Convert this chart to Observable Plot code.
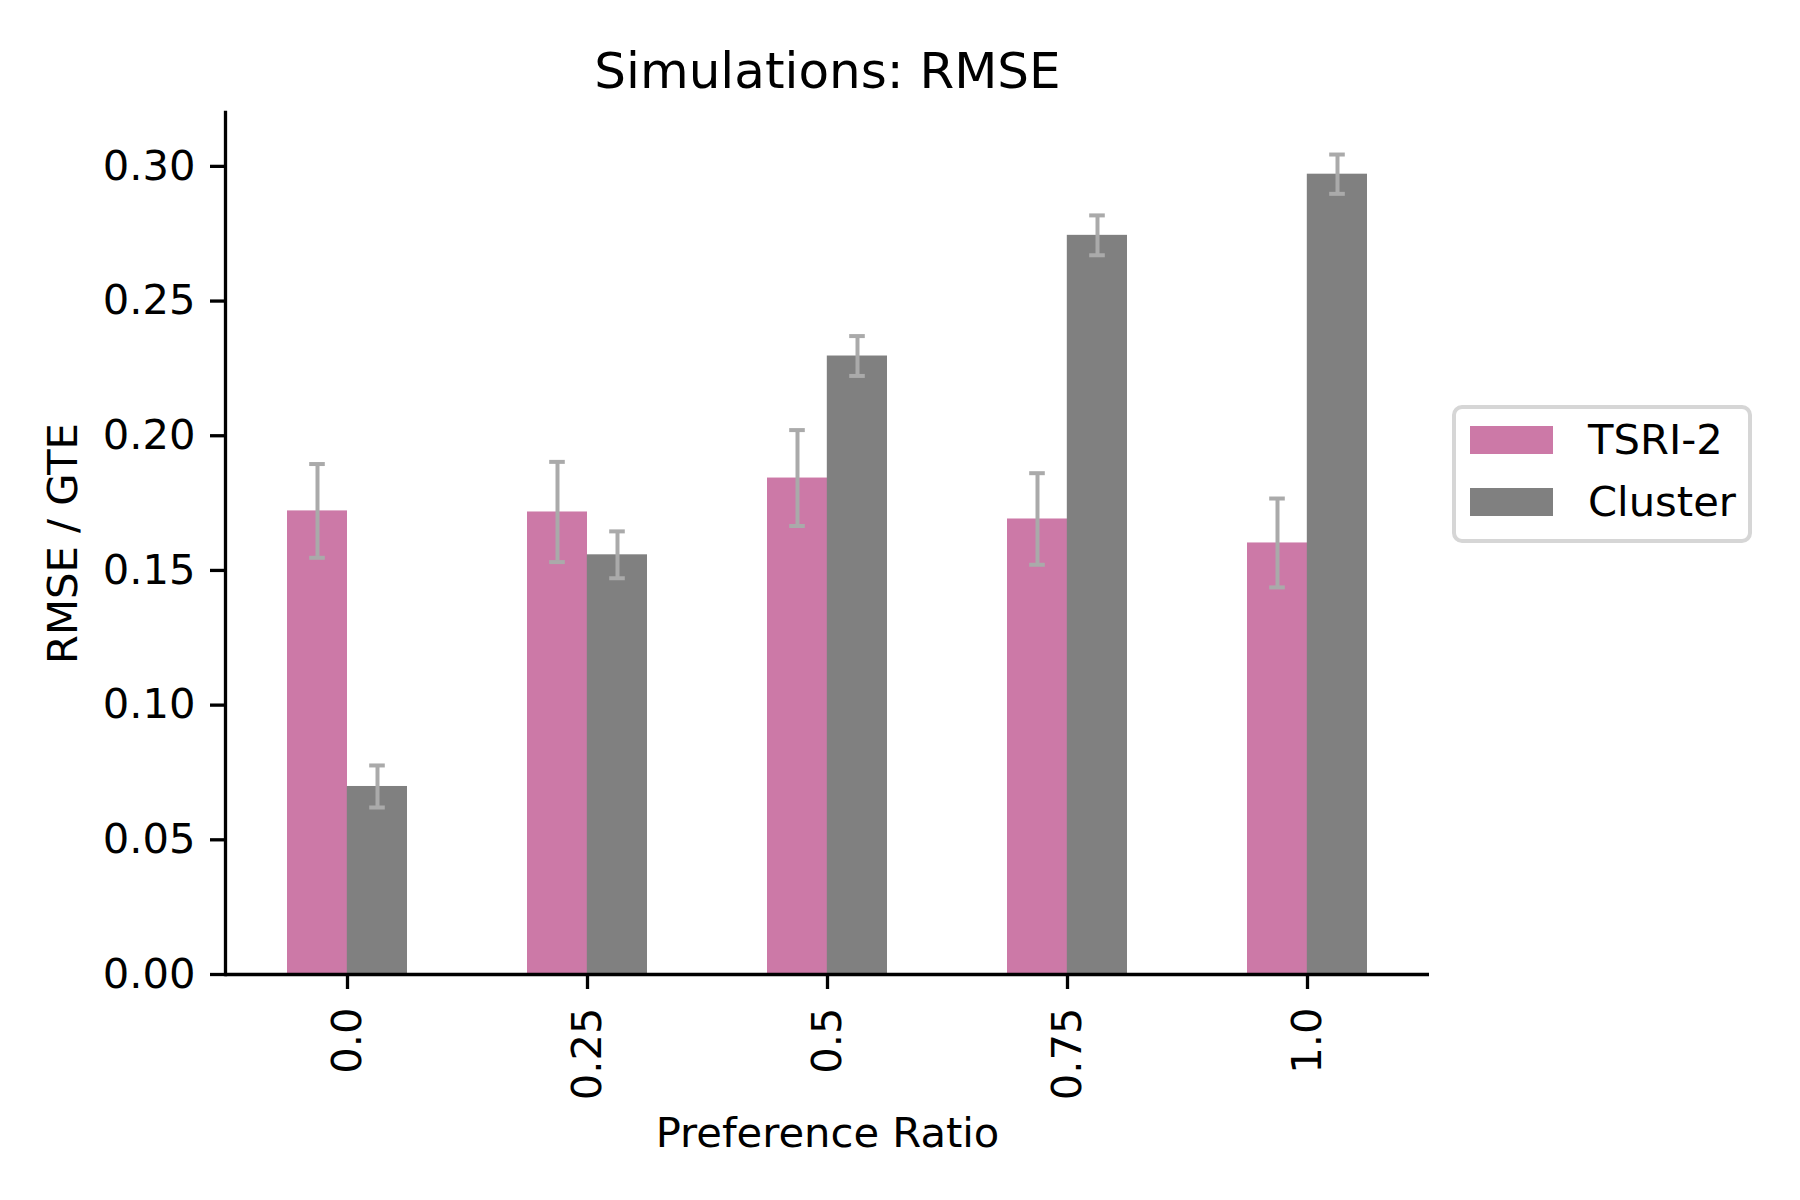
<!DOCTYPE html>
<html>
<head>
<meta charset="utf-8">
<script src="https://cdn.jsdelivr.net/npm/d3@7"></script>
<script src="https://cdn.jsdelivr.net/npm/@observablehq/plot@0.6"></script>
<style>
  body { margin: 0; background: #fff; }
  #wrap { position: relative; width: 1800px; height: 1200px; font-family: "DejaVu Sans", sans-serif; }
  #chart svg { display: block; }
  .legend { position: absolute; left: 1452px; top: 405px; width: 292px; height: 130px;
            border: 4px solid #d6d6d6; border-radius: 10px; background: #fff; }
  .legend .sw { position: absolute; left: 14px; width: 83px; height: 28px; }
  .legend .lb { position: absolute; left: 132px; font-size: 41.7px; line-height: 42px; color: #000; white-space: nowrap; }
</style>
</head>
<body>
<div id="wrap">
  <div id="chart"></div>
  <div class="legend" id="legend"></div>
</div>
<script>
// ---- data ----
const categories = ["0.0", "0.25", "0.5", "0.75", "1.0"];
const seriesNames = ["TSRI-2", "Cluster"];
const tsriValues = [0.1721, 0.1717, 0.1843, 0.1691, 0.1602];
const tsriErrors = [0.0174, 0.0186, 0.0178, 0.0170, 0.0165];
const clusterValues = [0.0698, 0.1558, 0.2296, 0.2744, 0.2971];
const clusterErrors = [0.0078, 0.0087, 0.0074, 0.0074, 0.0073];
const yTicks = [0, 0.05, 0.10, 0.15, 0.20, 0.25, 0.30];
const titleText = "Simulations: RMSE";
const xLabel = "Preference Ratio";
const yLabel = "RMSE / GTE";

const PINK = "#CC79A7";
const GRAY = "#808080";
const ERR = "#AAAAAA";

const tsri = categories.map((c, i) => ({cat: c, value: tsriValues[i], err: tsriErrors[i]}));
const cluster = categories.map((c, i) => ({cat: c, value: clusterValues[i], err: clusterErrors[i]}));

const errMarks = (data, shift) => [
  Plot.ruleX(data, {x: "cat", y1: d => d.value - d.err, y2: d => d.value + d.err, dx: shift, stroke: ERR, strokeWidth: 4}),
  Plot.tickY(data, {x: "cat", y: d => d.value + d.err, dx: shift, insetLeft: 52.2, insetRight: 52.2, stroke: ERR, strokeWidth: 4}),
  Plot.tickY(data, {x: "cat", y: d => d.value - d.err, dx: shift, insetLeft: 52.2, insetRight: 52.2, stroke: ERR, strokeWidth: 4})
];

const plot = Plot.plot({
  width: 1800,
  height: 1200,
  marginLeft: 225,
  marginRight: 371,
  marginTop: 112,
  marginBottom: 226,
  style: {fontFamily: "DejaVu Sans", fontSize: "41.7px", color: "black", background: "white", overflow: "visible"},
  x: {type: "band", domain: categories, paddingInner: 0.5, paddingOuter: 0.25},
  y: {domain: [0, 0.32]},
  marks: [
    Plot.barY(tsri, {x: "cat", y: "value", fill: PINK, insetLeft: 0, insetRight: 60}),
    Plot.barY(cluster, {x: "cat", y: "value", fill: GRAY, insetLeft: 59.8, insetRight: 0}),
    ...errMarks(tsri, -30),
    ...errMarks(cluster, 30),
    Plot.axisY({ticks: yTicks, tickFormat: d3.format(".2f"), tickSize: 15, tickPadding: 15, strokeWidth: 3.3, label: null}),
    Plot.axisX({tickSize: 15, tickPadding: 18, tickRotate: -90, strokeWidth: 3.3, label: null}),
    Plot.ruleY([0], {stroke: "black", strokeWidth: 3.3}),
    Plot.frame({anchor: "left", stroke: "black", strokeWidth: 3.3}),
    Plot.text([titleText], {text: d => d, frameAnchor: "top", lineAnchor: "middle", textAnchor: "middle", dy: -41, fontSize: 50}),
    Plot.text([xLabel], {text: d => d, frameAnchor: "bottom", lineAnchor: "middle", textAnchor: "middle", dy: 159, fontSize: 41.7}),
    Plot.text([yLabel], {text: d => d, frameAnchor: "left", lineAnchor: "middle", textAnchor: "middle", dx: -162, rotate: -90, fontSize: 41.7})
  ]
});
document.getElementById("chart").appendChild(plot);

// legend
const legend = document.getElementById("legend");
const colors = [PINK, GRAY];
const swTops = [17, 79];
const lbTops = [10, 72];
seriesNames.forEach((name, i) => {
  const sw = document.createElement("div");
  sw.className = "sw";
  sw.style.top = swTops[i] + "px";
  sw.style.background = colors[i];
  legend.appendChild(sw);
  const lb = document.createElement("div");
  lb.className = "lb";
  lb.style.top = lbTops[i] + "px";
  lb.textContent = name;
  legend.appendChild(lb);
});
</script>
</body>
</html>
